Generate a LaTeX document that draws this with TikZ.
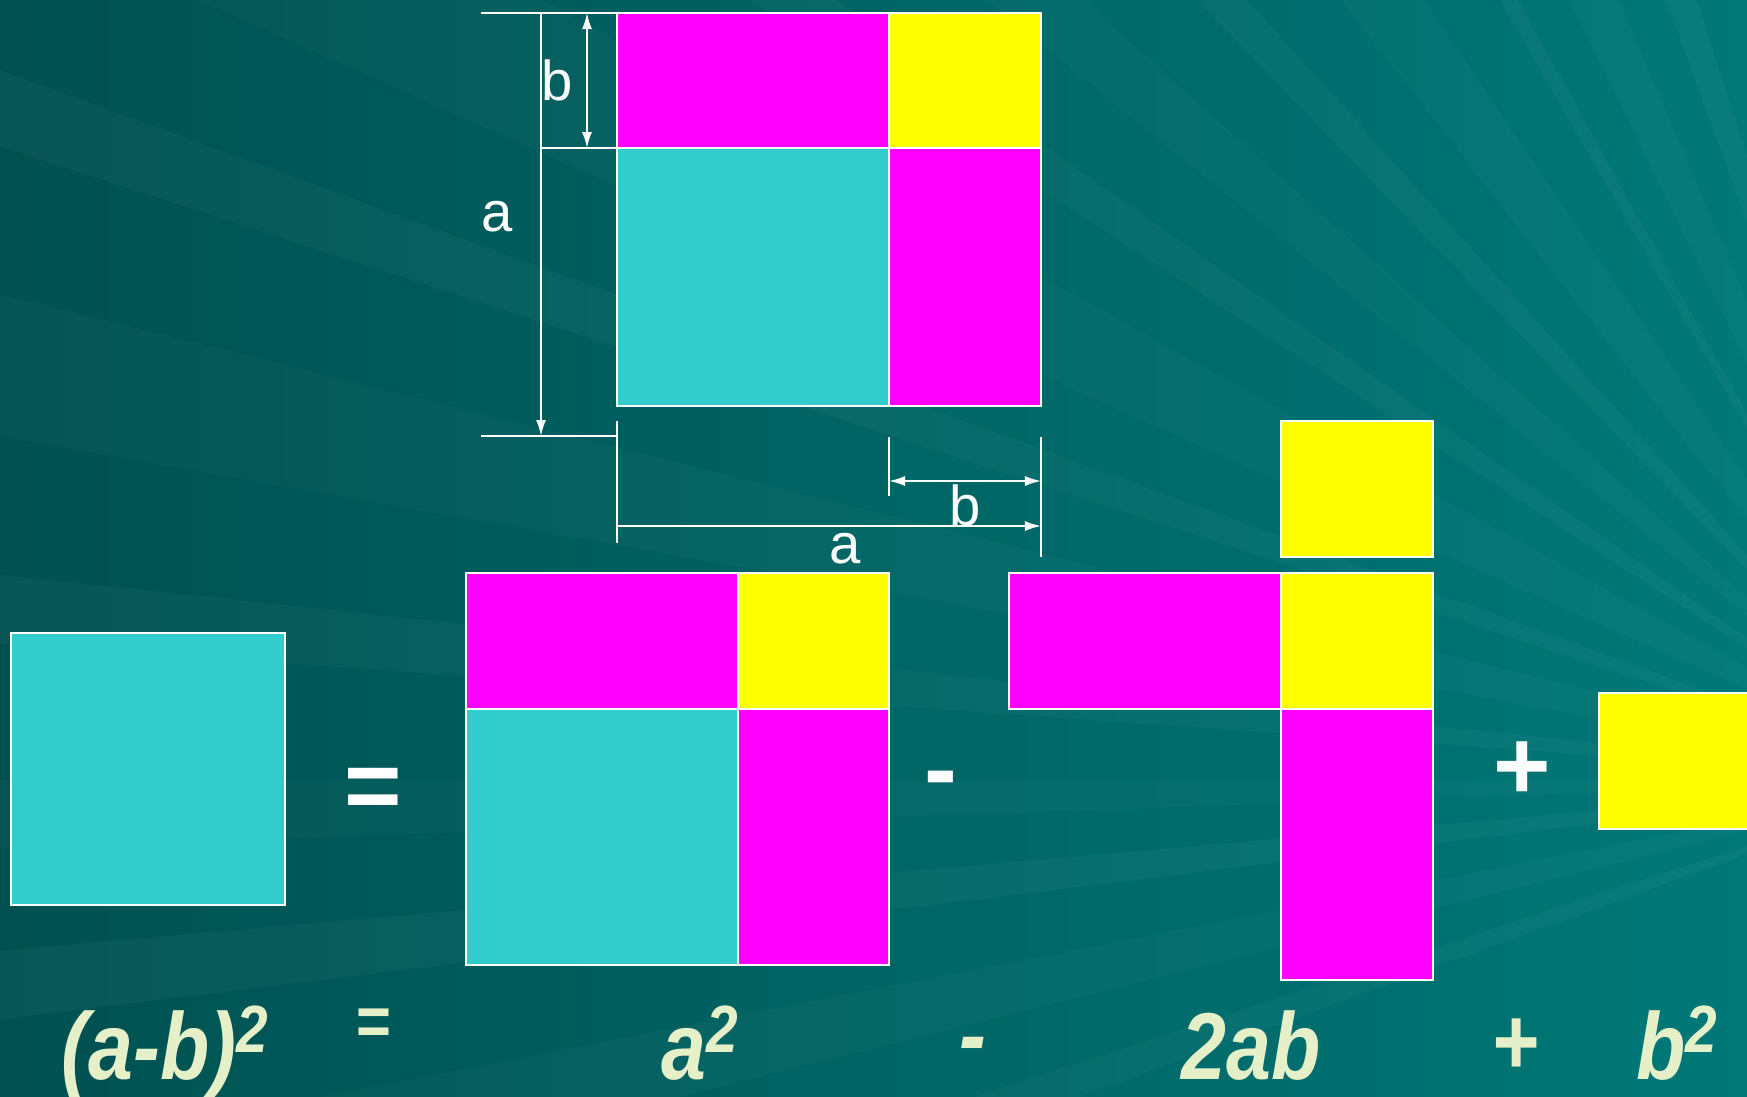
\documentclass[tikz,border=0pt]{standalone}
\usepackage{fontspec}
\setmainfont{Liberation Sans}
\usetikzlibrary{arrows.meta, calc, positioning}
\definecolor{tealdark}{RGB}{0,80,80}
\definecolor{teallight}{RGB}{0,120,120}
\definecolor{sqcyan}{RGB}{51,204,204}
\definecolor{sqmagenta}{RGB}{255,0,255}
\definecolor{sqyellow}{RGB}{255,255,0}
\definecolor{formcream}{RGB}{230,240,200}
\tikzset{
    cell/.style={draw=white, fill=#1, line width=0.7pt},
    dimline/.style={draw=white, line width=0.5pt},
    dimarrow/.style={dimline, -{Latex[length=1.6mm, width=1mm]}},
    dimdarrow/.style={dimline, {Latex[length=1.6mm, width=1mm]}-{Latex[length=1.6mm, width=1mm]}},
    dimlabel/.style={text=white, font=\fontsize{16}{16}\selectfont, inner sep=0pt},
    opsign/.style={text=white, font=\fontsize{28}{28}\selectfont\bfseries, inner sep=0pt},
    formula/.style={text=formcream, font=\fontsize{27}{27}\selectfont\bfseries\itshape, inner sep=0pt, anchor=base west, xscale=0.85},
    ray/.style={fill=white, opacity=#1}
}
\newcommand{\sqr}{\raisebox{7.5pt}{\fontsize{19}{19}\selectfont 2}}

\begin{document}
\begin{tikzpicture}[x=0.01cm, y=-0.01cm]
\useasboundingbox (0,0) rectangle (1747,1096);

% background
\begin{scope}
\clip (0,0) rectangle (1747,1096);
\shade[left color=tealdark, right color=teallight] (0,0) rectangle (1747,1096);
\coordinate (focus) at (1950,780);
\foreach \a/\b/\o in {160/162/0.03, 166/169/0.025, 173/175/0.035, 178/180/0.025,
    184/186/0.03, 190/194/0.025, 198/200/0.03, 204/209/0.025, 213/215/0.03,
    219/222/0.025, 226/228/0.03, 232/236/0.025, 240/241/0.035, 244/247/0.025, 250/252/0.03}
  \fill[ray=\o] (focus) -- ($(focus)+(\a:3000)$) -- ($(focus)+(\b:3000)$) -- cycle;
\end{scope}

% top square with dimensions
\draw[cell=sqmagenta] (617,13) rectangle (889,148);
\draw[cell=sqyellow] (889,13) rectangle (1041,148);
\draw[cell=sqcyan] (617,148) rectangle (889,406);
\draw[cell=sqmagenta] (889,148) rectangle (1041,406);

\coordinate (exttop) at (481,13);
\coordinate (extbot) at (481,436);
\draw[dimline] (exttop) -- (617,13);
\draw[dimline] (extbot) -- (617,436);
\draw[dimline] (541,148) -- (617,148);
\draw[dimarrow] (541,13) -- (541,436);
\draw[dimdarrow] (587,13) -- (587,148);
\draw[dimline] (617,421) -- (617,543);
\draw[dimline] (889,437) -- (889,496);
\draw[dimline] (1041,437) -- (1041,557);
\draw[dimdarrow] (889,481) -- (1041,481);
\draw[dimarrow] (617,526) -- (1041,526);

\node[dimlabel] (lblbtop) at (557,80) {b};
\node[dimlabel] (lblaleft) at (497,217) {a};
\node[dimlabel] (lblbbot) at (965,505) {b};
\node[dimlabel] (lblabot) at (845,549) {a};

% bottom row
\draw[cell=sqcyan] (11,633) rectangle (285,905);

\draw[cell=sqmagenta] (466,573) rectangle (738,709);
\draw[cell=sqyellow] (738,573) rectangle (889,709);
\draw[cell=sqcyan] (466,709) rectangle (738,965);
\draw[cell=sqmagenta] (738,709) rectangle (889,965);

\draw[cell=sqyellow] (1281,421) rectangle (1433,557);
\draw[cell=sqmagenta] (1009,573) rectangle (1281,709);
\draw[cell=sqyellow] (1281,573) rectangle (1433,709);
\draw[cell=sqmagenta] (1281,709) rectangle (1433,980);

\draw[cell=sqyellow] (1599,693) rectangle (1760,829);

\node[opsign] (eqsign) at (373,794) {=};
\node[opsign] (minussign) at (941,787) {-};
\node[opsign] (plussign) at (1522,771) {+};

% formula
\node[formula] (lhs) at (61,1079) {(a-b)\sqr};
\node[formula, anchor=center, font=\fontsize{20}{20}\selectfont\bfseries] (eqsmall) at (374,1027) {=};
\node[formula] (asq) at (661,1079) {a\sqr};
\node[formula, anchor=center] (minusf) at (973,1052) {-};
\node[formula] (twoab) at (1181,1079) {2ab};
\node[formula, anchor=center] (plusf) at (1515,1047) {+};
\node[formula] (bsq) at (1636,1079) {b\sqr};

\end{tikzpicture}
\end{document}
